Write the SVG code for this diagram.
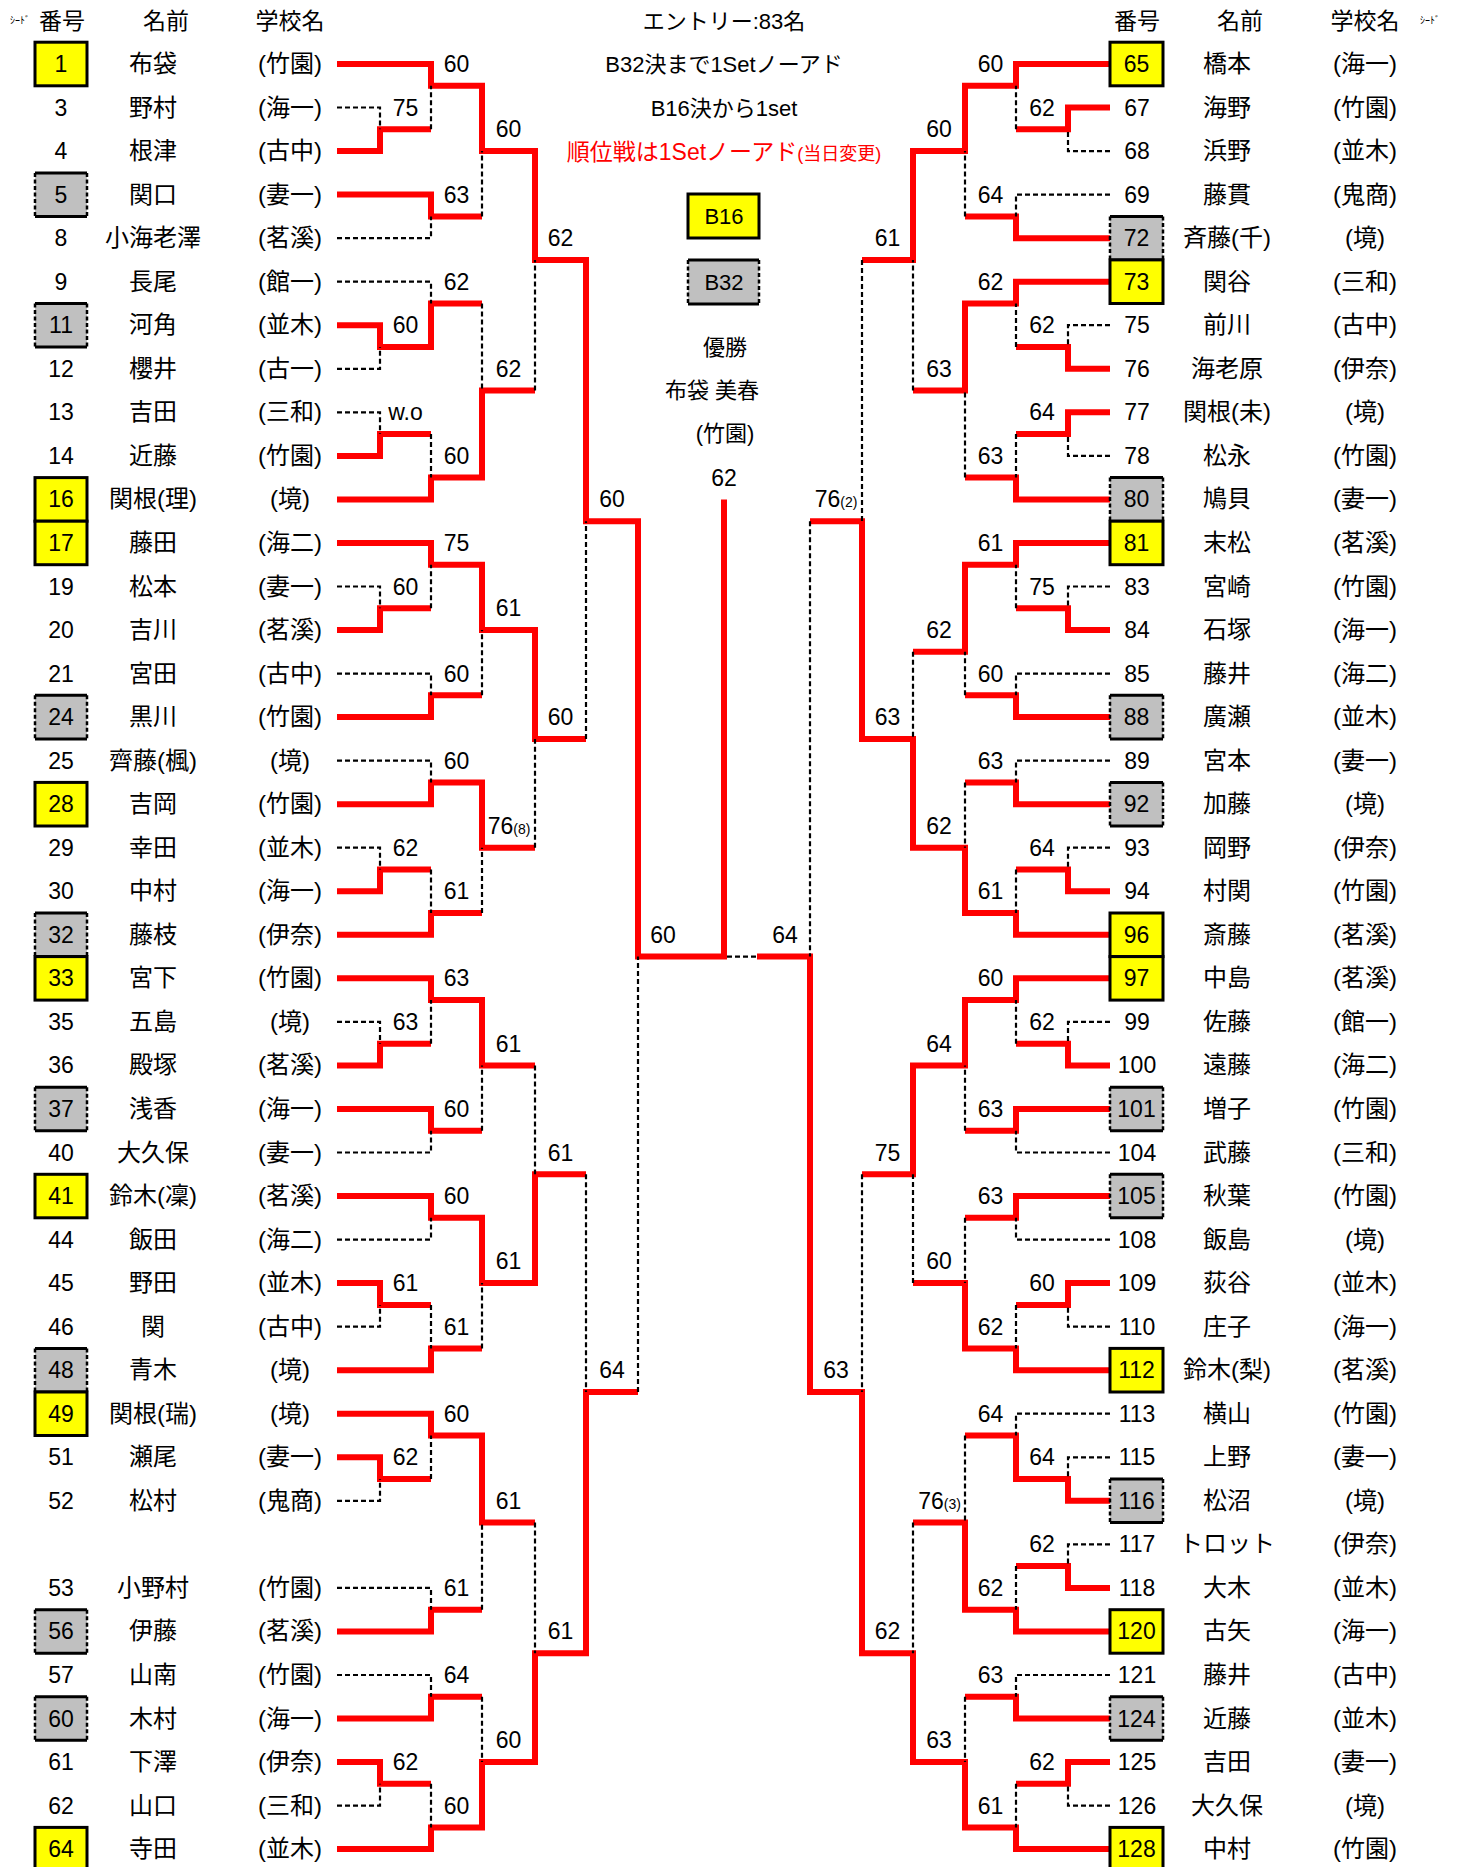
<svg xmlns="http://www.w3.org/2000/svg" width="1457" height="1867" viewBox="0 0 1457 1867">
<style>
text{font-family:"Liberation Sans","Noto Sans CJK JP",sans-serif;font-size:22px;fill:#000;text-anchor:middle}
#left-entries text,#right-entries text{font-size:24px}
#left-entries g text:first-of-type,#right-entries g text:first-of-type{font-size:23px}
#scores text{font-size:23px}
#header text{font-size:23px}
#scores .sm{font-size:14px}
#header .tiny{font-size:10px}
.red{fill:#f00}
.r{fill:none;stroke:#f00;stroke-width:6;stroke-linejoin:miter}
.d{fill:none;stroke:#000;stroke-width:2.2;stroke-dasharray:5 3}
.yb{fill:#ff0;stroke:#000;stroke-width:3}
.gb{fill:#c0c0c0}
.gs{stroke:#000;stroke-width:3;fill:none}
.gd{stroke:#000;stroke-width:2.5;stroke-dasharray:4 2.5;fill:none}
</style>
<rect width="1457" height="1867" fill="#fff"/>
<g id="connectors">
<polyline class="r" points="337,64 431,64 431,85.8 482,85.8 482,151.1 535,151.1 535,259.9 586,259.9 586,521.2 638,521.2 638,956.6 724,956.6 724,499.4"/>
<polyline class="r" points="337,151.1 380,151.1 380,129.3 431,129.3"/>
<polyline class="r" points="337,194.6 431,194.6 431,216.4 482,216.4"/>
<polyline class="r" points="337,325.2 380,325.2 380,347 431,347 431,303.5 482,303.5"/>
<polyline class="r" points="337,455.9 380,455.9 380,434.1 431,434.1"/>
<polyline class="r" points="337,499.4 431,499.4 431,477.6 482,477.6 482,390.6 535,390.6"/>
<polyline class="r" points="337,542.9 431,542.9 431,564.7 482,564.7 482,630 535,630 535,738.9 586,738.9"/>
<polyline class="r" points="337,630 380,630 380,608.3 431,608.3"/>
<polyline class="r" points="337,717.1 431,717.1 431,695.3 482,695.3"/>
<polyline class="r" points="337,804.2 431,804.2 431,782.4 482,782.4 482,847.7 535,847.7"/>
<polyline class="r" points="337,891.3 380,891.3 380,869.5 431,869.5"/>
<polyline class="r" points="337,934.8 431,934.8 431,913 482,913"/>
<polyline class="r" points="337,978.3 431,978.3 431,1000.1 482,1000.1 482,1065.4 535,1065.4"/>
<polyline class="r" points="337,1065.4 380,1065.4 380,1043.7 431,1043.7"/>
<polyline class="r" points="337,1109 431,1109 431,1130.7 482,1130.7"/>
<polyline class="r" points="337,1196 431,1196 431,1217.8 482,1217.8 482,1283.1 535,1283.1 535,1174.3 586,1174.3"/>
<polyline class="r" points="337,1283.1 380,1283.1 380,1304.9 431,1304.9"/>
<polyline class="r" points="337,1370.2 431,1370.2 431,1348.4 482,1348.4"/>
<polyline class="r" points="337,1413.7 431,1413.7 431,1435.5 482,1435.5 482,1522.6 535,1522.6"/>
<polyline class="r" points="337,1457.3 380,1457.3 380,1479.1 431,1479.1"/>
<polyline class="r" points="337,1631.4 431,1631.4 431,1609.7 482,1609.7"/>
<polyline class="r" points="337,1718.5 431,1718.5 431,1696.8 482,1696.8"/>
<polyline class="r" points="337,1762.1 380,1762.1 380,1783.8 431,1783.8"/>
<polyline class="r" points="337,1849.1 431,1849.1 431,1827.4 482,1827.4 482,1762.1 535,1762.1 535,1653.2 586,1653.2 586,1392 638,1392"/>
<polyline class="d" points="337,107.5 380,107.5 380,129.3"/>
<polyline class="d" points="337,238.2 431,238.2 431,216.4"/>
<polyline class="d" points="337,281.7 431,281.7 431,303.5"/>
<polyline class="d" points="337,368.8 380,368.8 380,347"/>
<polyline class="d" points="337,412.3 380,412.3 380,434.1"/>
<polyline class="d" points="337,586.5 380,586.5 380,608.3"/>
<polyline class="d" points="337,673.6 431,673.6 431,695.3"/>
<polyline class="d" points="337,760.6 431,760.6 431,782.4"/>
<polyline class="d" points="337,847.7 380,847.7 380,869.5"/>
<polyline class="d" points="337,1021.9 380,1021.9 380,1043.7"/>
<polyline class="d" points="337,1152.5 431,1152.5 431,1130.7"/>
<polyline class="d" points="337,1239.6 431,1239.6 431,1217.8"/>
<polyline class="d" points="337,1326.7 380,1326.7 380,1304.9"/>
<polyline class="d" points="337,1500.8 380,1500.8 380,1479.1"/>
<polyline class="d" points="337,1587.9 431,1587.9 431,1609.7"/>
<polyline class="d" points="337,1675 431,1675 431,1696.8"/>
<polyline class="d" points="337,1805.6 380,1805.6 380,1783.8"/>
<path class="d" d="M431 129.3V85.8M482 216.4V151.1M482 303.5V390.6M431 434.1V477.6M535 390.6V259.9M586 738.9V521.2M431 608.3V564.7M482 695.3V630M535 847.7V738.9M431 869.5V913M482 913V847.7M535 1065.4V1174.3M431 1043.7V1000.1M482 1130.7V1065.4M586 1174.3V1392M431 1304.9V1348.4M482 1348.4V1283.1M535 1522.6V1653.2M431 1479.1V1435.5M482 1609.7V1522.6M482 1696.8V1762.1M431 1783.8V1827.4M638 1392V956.6"/>
<polyline class="r" points="1110,64 1016,64 1016,85.8 965,85.8 965,151.1 913,151.1 913,259.9 862,259.9"/>
<polyline class="r" points="1110,107.5 1068,107.5 1068,129.3 1016,129.3"/>
<polyline class="r" points="1110,238.2 1016,238.2 1016,216.4 965,216.4"/>
<polyline class="r" points="1110,281.7 1016,281.7 1016,303.5 965,303.5 965,390.6 913,390.6"/>
<polyline class="r" points="1110,368.8 1068,368.8 1068,347 1016,347"/>
<polyline class="r" points="1110,412.3 1068,412.3 1068,434.1 1016,434.1"/>
<polyline class="r" points="1110,499.4 1016,499.4 1016,477.6 965,477.6"/>
<polyline class="r" points="1110,542.9 1016,542.9 1016,564.7 965,564.7 965,651.8 913,651.8"/>
<polyline class="r" points="1110,630 1068,630 1068,608.3 1016,608.3"/>
<polyline class="r" points="1110,717.1 1016,717.1 1016,695.3 965,695.3"/>
<polyline class="r" points="1110,804.2 1016,804.2 1016,782.4 965,782.4"/>
<polyline class="r" points="1110,891.3 1068,891.3 1068,869.5 1016,869.5"/>
<polyline class="r" points="1110,934.8 1016,934.8 1016,913 965,913 965,847.7 913,847.7 913,738.9 862,738.9 862,521.2 810,521.2"/>
<polyline class="r" points="1110,978.3 1016,978.3 1016,1000.1 965,1000.1 965,1065.4 913,1065.4 913,1174.3 862,1174.3"/>
<polyline class="r" points="1110,1065.4 1068,1065.4 1068,1043.7 1016,1043.7"/>
<polyline class="r" points="1110,1109 1016,1109 1016,1130.7 965,1130.7"/>
<polyline class="r" points="1110,1196 1016,1196 1016,1217.8 965,1217.8"/>
<polyline class="r" points="1110,1283.1 1068,1283.1 1068,1304.9 1016,1304.9"/>
<polyline class="r" points="1110,1370.2 1016,1370.2 1016,1348.4 965,1348.4 965,1283.1 913,1283.1"/>
<polyline class="r" points="1110,1500.8 1068,1500.8 1068,1479.1 1016,1479.1 1016,1435.5 965,1435.5"/>
<polyline class="r" points="1110,1587.9 1068,1587.9 1068,1566.1 1016,1566.1"/>
<polyline class="r" points="1110,1631.4 1016,1631.4 1016,1609.7 965,1609.7 965,1522.6 913,1522.6"/>
<polyline class="r" points="1110,1718.5 1016,1718.5 1016,1696.8 965,1696.8"/>
<polyline class="r" points="1110,1762.1 1068,1762.1 1068,1783.8 1016,1783.8"/>
<polyline class="r" points="1110,1849.1 1016,1849.1 1016,1827.4 965,1827.4 965,1762.1 913,1762.1 913,1653.2 862,1653.2 862,1392 810,1392 810,956.6 757,956.6"/>
<polyline class="d" points="1110,151.1 1068,151.1 1068,129.3"/>
<polyline class="d" points="1110,194.6 1016,194.6 1016,216.4"/>
<polyline class="d" points="1110,325.2 1068,325.2 1068,347"/>
<polyline class="d" points="1110,455.9 1068,455.9 1068,434.1"/>
<polyline class="d" points="1110,586.5 1068,586.5 1068,608.3"/>
<polyline class="d" points="1110,673.6 1016,673.6 1016,695.3"/>
<polyline class="d" points="1110,760.6 1016,760.6 1016,782.4"/>
<polyline class="d" points="1110,847.7 1068,847.7 1068,869.5"/>
<polyline class="d" points="1110,1021.9 1068,1021.9 1068,1043.7"/>
<polyline class="d" points="1110,1152.5 1016,1152.5 1016,1130.7"/>
<polyline class="d" points="1110,1239.6 1016,1239.6 1016,1217.8"/>
<polyline class="d" points="1110,1326.7 1068,1326.7 1068,1304.9"/>
<polyline class="d" points="1110,1413.7 1016,1413.7 1016,1435.5"/>
<polyline class="d" points="1110,1457.3 1068,1457.3 1068,1479.1"/>
<polyline class="d" points="1110,1544.4 1068,1544.4 1068,1566.1"/>
<polyline class="d" points="1110,1675 1016,1675 1016,1696.8"/>
<polyline class="d" points="1110,1805.6 1068,1805.6 1068,1783.8"/>
<path class="d" d="M1016 129.3V85.8M965 216.4V151.1M913 390.6V259.9M1016 347V303.5M1016 434.1V477.6M965 477.6V390.6M862 259.9V521.2M913 651.8V738.9M1016 608.3V564.7M965 695.3V651.8M965 782.4V847.7M1016 869.5V913M810 521.2V956.6M862 1174.3V1392M1016 1043.7V1000.1M965 1130.7V1065.4M965 1217.8V1283.1M1016 1304.9V1348.4M913 1283.1V1174.3M965 1435.5V1522.6M1016 1566.1V1609.7M913 1522.6V1653.2M965 1696.8V1762.1M1016 1783.8V1827.4M727 956.6H757"/>
</g>
<g id="scores">
<text x="405.5" y="115.5">75</text><text x="405.5" y="333.2">60</text><text x="405.5" y="420.3">w.o</text><text x="405.5" y="594.5">60</text><text x="405.5" y="855.7">62</text><text x="405.5" y="1029.9">63</text><text x="405.5" y="1291.1">61</text><text x="405.5" y="1465.3">62</text><text x="405.5" y="1770.1">62</text>
<text x="456.5" y="72">60</text><text x="456.5" y="202.6">63</text><text x="456.5" y="289.7">62</text><text x="456.5" y="463.9">60</text><text x="456.5" y="550.9">75</text><text x="456.5" y="681.6">60</text><text x="456.5" y="768.6">60</text><text x="456.5" y="899.3">61</text><text x="456.5" y="986.3">63</text><text x="456.5" y="1117">60</text><text x="456.5" y="1204">60</text><text x="456.5" y="1334.7">61</text><text x="456.5" y="1421.7">60</text><text x="456.5" y="1595.9">61</text><text x="456.5" y="1683">64</text><text x="456.5" y="1813.6">60</text>
<text x="508.5" y="137.3">60</text><text x="508.5" y="376.8">62</text><text x="508.5" y="616.3">61</text><text x="509" y="834">76<tspan class="sm">(8)</tspan></text><text x="508.5" y="1051.7">61</text><text x="508.5" y="1269.4">61</text><text x="508.5" y="1508.8">61</text><text x="508.5" y="1748.3">60</text>
<text x="560.5" y="246.2">62</text><text x="560.5" y="725.1">60</text><text x="560.5" y="1160.5">61</text><text x="560.5" y="1639.4">61</text>
<text x="612" y="507.4">60</text><text x="612" y="1378.2">64</text>
<text x="663" y="942.8">60</text>
<text x="724" y="485.6">62</text>
<text x="785" y="942.8">64</text>
<text x="836" y="507.4">76<tspan class="sm">(2)</tspan></text><text x="836" y="1378.2">63</text>
<text x="887.5" y="246.2">61</text><text x="887.5" y="725.1">63</text><text x="887.5" y="1160.5">75</text><text x="887.5" y="1639.4">62</text>
<text x="939" y="137.3">60</text><text x="939" y="376.8">63</text><text x="939" y="638">62</text><text x="939" y="834">62</text><text x="939" y="1051.7">64</text><text x="939" y="1269.4">60</text><text x="939.5" y="1508.8">76<tspan class="sm">(3)</tspan></text><text x="939" y="1748.3">63</text>
<text x="990.5" y="72">60</text><text x="990.5" y="202.6">64</text><text x="990.5" y="289.7">62</text><text x="990.5" y="463.9">63</text><text x="990.5" y="550.9">61</text><text x="990.5" y="681.6">60</text><text x="990.5" y="768.6">63</text><text x="990.5" y="899.3">61</text><text x="990.5" y="986.3">60</text><text x="990.5" y="1117">63</text><text x="990.5" y="1204">63</text><text x="990.5" y="1334.7">62</text><text x="990.5" y="1421.7">64</text><text x="990.5" y="1595.9">62</text><text x="990.5" y="1683">63</text><text x="990.5" y="1813.6">61</text>
<text x="1042" y="115.5">62</text><text x="1042" y="333.2">62</text><text x="1042" y="420.3">64</text><text x="1042" y="594.5">75</text><text x="1042" y="855.7">64</text><text x="1042" y="1029.9">62</text><text x="1042" y="1291.1">60</text><text x="1042" y="1465.3">64</text><text x="1042" y="1552.4">62</text><text x="1042" y="1770.1">62</text>
</g>
<g id="header">
<text class="tiny" x="20" y="24">ｼｰﾄﾞ</text>
<text x="62" y="28.5">番号</text><text x="166" y="28.5">名前</text><text x="290" y="28.5">学校名</text>
<text x="1137" y="28.5">番号</text><text x="1240" y="28.5">名前</text><text x="1365" y="28.5">学校名</text>
<text class="tiny" x="1430" y="24">ｼｰﾄﾞ</text>
</g>
<g id="info">
<text x="724" y="29">エントリー:83名</text>
<text x="724" y="72">B32決まで1Setノーアド</text>
<text x="724" y="116">B16決から1set</text>
<text class="red" x="724" y="160" style="font-size:23px">順位戦は1Setノーアド<tspan style="font-size:18px">(当日変更)</tspan></text>
<g id="legend-b16"><rect class="yb" x="688" y="194" width="71" height="44"/><text x="724" y="224">B16</text></g>
<g id="legend-b32"><rect class="gb" x="688" y="260" width="71" height="44"/><path class="gs" d="M688 260H759M688 304H759"/><path class="gd" d="M688 260V304M759 260V304"/><text x="724" y="290">B32</text></g>
<text x="725" y="355">優勝</text>
<text x="712" y="398">布袋 美春</text>
<text x="725" y="441">(竹園)</text>
</g>
<g id="left-entries">
<g id="n1"><rect class="yb" x="35" y="42.2" width="52" height="43.6"/><text x="61" y="72">1</text><text x="153" y="72">布袋</text><text x="290" y="72">(竹園)</text></g>
<g id="n3"><text x="61" y="115.5">3</text><text x="153" y="115.5">野村</text><text x="290" y="115.5">(海一)</text></g>
<g id="n4"><text x="61" y="159.1">4</text><text x="153" y="159.1">根津</text><text x="290" y="159.1">(古中)</text></g>
<g id="n5"><rect class="gb" x="35" y="172.9" width="52" height="43.5"/><path class="gs" d="M35 172.9H87M35 216.4H87"/><path class="gd" d="M35 172.9V216.4M87 172.9V216.4"/><text x="61" y="202.6">5</text><text x="153" y="202.6">関口</text><text x="290" y="202.6">(妻一)</text></g>
<g id="n8"><text x="61" y="246.2">8</text><text x="153" y="246.2">小海老澤</text><text x="290" y="246.2">(茗溪)</text></g>
<g id="n9"><text x="61" y="289.7">9</text><text x="153" y="289.7">長尾</text><text x="290" y="289.7">(館一)</text></g>
<g id="n11"><rect class="gb" x="35" y="303.5" width="52" height="43.5"/><path class="gs" d="M35 303.5H87M35 347H87"/><path class="gd" d="M35 303.5V347M87 303.5V347"/><text x="61" y="333.2">11</text><text x="153" y="333.2">河角</text><text x="290" y="333.2">(並木)</text></g>
<g id="n12"><text x="61" y="376.8">12</text><text x="153" y="376.8">櫻井</text><text x="290" y="376.8">(古一)</text></g>
<g id="n13"><text x="61" y="420.3">13</text><text x="153" y="420.3">吉田</text><text x="290" y="420.3">(三和)</text></g>
<g id="n14"><text x="61" y="463.9">14</text><text x="153" y="463.9">近藤</text><text x="290" y="463.9">(竹園)</text></g>
<g id="n16"><rect class="yb" x="35" y="477.6" width="52" height="43.6"/><text x="61" y="507.4">16</text><text x="153" y="507.4">関根(理)</text><text x="290" y="507.4">(境)</text></g>
<g id="n17"><rect class="yb" x="35" y="521.2" width="52" height="43.5"/><text x="61" y="550.9">17</text><text x="153" y="550.9">藤田</text><text x="290" y="550.9">(海二)</text></g>
<g id="n19"><text x="61" y="594.5">19</text><text x="153" y="594.5">松本</text><text x="290" y="594.5">(妻一)</text></g>
<g id="n20"><text x="61" y="638">20</text><text x="153" y="638">吉川</text><text x="290" y="638">(茗溪)</text></g>
<g id="n21"><text x="61" y="681.6">21</text><text x="153" y="681.6">宮田</text><text x="290" y="681.6">(古中)</text></g>
<g id="n24"><rect class="gb" x="35" y="695.3" width="52" height="43.6"/><path class="gs" d="M35 695.3H87M35 738.9H87"/><path class="gd" d="M35 695.3V738.9M87 695.3V738.9"/><text x="61" y="725.1">24</text><text x="153" y="725.1">黒川</text><text x="290" y="725.1">(竹園)</text></g>
<g id="n25"><text x="61" y="768.6">25</text><text x="153" y="768.6">齊藤(楓)</text><text x="290" y="768.6">(境)</text></g>
<g id="n28"><rect class="yb" x="35" y="782.4" width="52" height="43.6"/><text x="61" y="812.2">28</text><text x="153" y="812.2">吉岡</text><text x="290" y="812.2">(竹園)</text></g>
<g id="n29"><text x="61" y="855.7">29</text><text x="153" y="855.7">幸田</text><text x="290" y="855.7">(並木)</text></g>
<g id="n30"><text x="61" y="899.3">30</text><text x="153" y="899.3">中村</text><text x="290" y="899.3">(海一)</text></g>
<g id="n32"><rect class="gb" x="35" y="913" width="52" height="43.6"/><path class="gs" d="M35 913H87M35 956.6H87"/><path class="gd" d="M35 913V956.6M87 913V956.6"/><text x="61" y="942.8">32</text><text x="153" y="942.8">藤枝</text><text x="290" y="942.8">(伊奈)</text></g>
<g id="n33"><rect class="yb" x="35" y="956.6" width="52" height="43.5"/><text x="61" y="986.3">33</text><text x="153" y="986.3">宮下</text><text x="290" y="986.3">(竹園)</text></g>
<g id="n35"><text x="61" y="1029.9">35</text><text x="153" y="1029.9">五島</text><text x="290" y="1029.9">(境)</text></g>
<g id="n36"><text x="61" y="1073.4">36</text><text x="153" y="1073.4">殿塚</text><text x="290" y="1073.4">(茗溪)</text></g>
<g id="n37"><rect class="gb" x="35" y="1087.2" width="52" height="43.5"/><path class="gs" d="M35 1087.2H87M35 1130.7H87"/><path class="gd" d="M35 1087.2V1130.7M87 1087.2V1130.7"/><text x="61" y="1117">37</text><text x="153" y="1117">浅香</text><text x="290" y="1117">(海一)</text></g>
<g id="n40"><text x="61" y="1160.5">40</text><text x="153" y="1160.5">大久保</text><text x="290" y="1160.5">(妻一)</text></g>
<g id="n41"><rect class="yb" x="35" y="1174.3" width="52" height="43.5"/><text x="61" y="1204">41</text><text x="153" y="1204">鈴木(凜)</text><text x="290" y="1204">(茗溪)</text></g>
<g id="n44"><text x="61" y="1247.6">44</text><text x="153" y="1247.6">飯田</text><text x="290" y="1247.6">(海二)</text></g>
<g id="n45"><text x="61" y="1291.1">45</text><text x="153" y="1291.1">野田</text><text x="290" y="1291.1">(並木)</text></g>
<g id="n46"><text x="61" y="1334.7">46</text><text x="153" y="1334.7">関</text><text x="290" y="1334.7">(古中)</text></g>
<g id="n48"><rect class="gb" x="35" y="1348.4" width="52" height="43.6"/><path class="gs" d="M35 1348.4H87M35 1392H87"/><path class="gd" d="M35 1348.4V1392M87 1348.4V1392"/><text x="61" y="1378.2">48</text><text x="153" y="1378.2">青木</text><text x="290" y="1378.2">(境)</text></g>
<g id="n49"><rect class="yb" x="35" y="1392" width="52" height="43.5"/><text x="61" y="1421.7">49</text><text x="153" y="1421.7">関根(瑞)</text><text x="290" y="1421.7">(境)</text></g>
<g id="n51"><text x="61" y="1465.3">51</text><text x="153" y="1465.3">瀬尾</text><text x="290" y="1465.3">(妻一)</text></g>
<g id="n52"><text x="61" y="1508.8">52</text><text x="153" y="1508.8">松村</text><text x="290" y="1508.8">(鬼商)</text></g>
<g id="n53"><text x="61" y="1595.9">53</text><text x="153" y="1595.9">小野村</text><text x="290" y="1595.9">(竹園)</text></g>
<g id="n56"><rect class="gb" x="35" y="1609.7" width="52" height="43.5"/><path class="gs" d="M35 1609.7H87M35 1653.2H87"/><path class="gd" d="M35 1609.7V1653.2M87 1609.7V1653.2"/><text x="61" y="1639.4">56</text><text x="153" y="1639.4">伊藤</text><text x="290" y="1639.4">(茗溪)</text></g>
<g id="n57"><text x="61" y="1683">57</text><text x="153" y="1683">山南</text><text x="290" y="1683">(竹園)</text></g>
<g id="n60"><rect class="gb" x="35" y="1696.8" width="52" height="43.5"/><path class="gs" d="M35 1696.8H87M35 1740.3H87"/><path class="gd" d="M35 1696.8V1740.3M87 1696.8V1740.3"/><text x="61" y="1726.5">60</text><text x="153" y="1726.5">木村</text><text x="290" y="1726.5">(海一)</text></g>
<g id="n61"><text x="61" y="1770.1">61</text><text x="153" y="1770.1">下澤</text><text x="290" y="1770.1">(伊奈)</text></g>
<g id="n62"><text x="61" y="1813.6">62</text><text x="153" y="1813.6">山口</text><text x="290" y="1813.6">(三和)</text></g>
<g id="n64"><rect class="yb" x="35" y="1827.4" width="52" height="43.5"/><text x="61" y="1857.1">64</text><text x="153" y="1857.1">寺田</text><text x="290" y="1857.1">(並木)</text></g>
</g>
<g id="right-entries">
<g id="n65"><rect class="yb" x="1110" y="42.2" width="53" height="43.6"/><text x="1136.5" y="72">65</text><text x="1227" y="72">橋本</text><text x="1365" y="72">(海一)</text></g>
<g id="n67"><text x="1137" y="115.5">67</text><text x="1227" y="115.5">海野</text><text x="1365" y="115.5">(竹園)</text></g>
<g id="n68"><text x="1137" y="159.1">68</text><text x="1227" y="159.1">浜野</text><text x="1365" y="159.1">(並木)</text></g>
<g id="n69"><text x="1137" y="202.6">69</text><text x="1227" y="202.6">藤貫</text><text x="1365" y="202.6">(鬼商)</text></g>
<g id="n72"><rect class="gb" x="1110" y="216.4" width="53" height="43.5"/><path class="gs" d="M1110 216.4H1163M1110 259.9H1163"/><path class="gd" d="M1110 216.4V259.9M1163 216.4V259.9"/><text x="1136.5" y="246.2">72</text><text x="1227" y="246.2">斉藤(千)</text><text x="1365" y="246.2">(境)</text></g>
<g id="n73"><rect class="yb" x="1110" y="259.9" width="53" height="43.6"/><text x="1136.5" y="289.7">73</text><text x="1227" y="289.7">関谷</text><text x="1365" y="289.7">(三和)</text></g>
<g id="n75"><text x="1137" y="333.2">75</text><text x="1227" y="333.2">前川</text><text x="1365" y="333.2">(古中)</text></g>
<g id="n76"><text x="1137" y="376.8">76</text><text x="1227" y="376.8">海老原</text><text x="1365" y="376.8">(伊奈)</text></g>
<g id="n77"><text x="1137" y="420.3">77</text><text x="1227" y="420.3">関根(未)</text><text x="1365" y="420.3">(境)</text></g>
<g id="n78"><text x="1137" y="463.9">78</text><text x="1227" y="463.9">松永</text><text x="1365" y="463.9">(竹園)</text></g>
<g id="n80"><rect class="gb" x="1110" y="477.6" width="53" height="43.6"/><path class="gs" d="M1110 477.6H1163M1110 521.2H1163"/><path class="gd" d="M1110 477.6V521.2M1163 477.6V521.2"/><text x="1136.5" y="507.4">80</text><text x="1227" y="507.4">鳩貝</text><text x="1365" y="507.4">(妻一)</text></g>
<g id="n81"><rect class="yb" x="1110" y="521.2" width="53" height="43.5"/><text x="1136.5" y="550.9">81</text><text x="1227" y="550.9">末松</text><text x="1365" y="550.9">(茗溪)</text></g>
<g id="n83"><text x="1137" y="594.5">83</text><text x="1227" y="594.5">宮崎</text><text x="1365" y="594.5">(竹園)</text></g>
<g id="n84"><text x="1137" y="638">84</text><text x="1227" y="638">石塚</text><text x="1365" y="638">(海一)</text></g>
<g id="n85"><text x="1137" y="681.6">85</text><text x="1227" y="681.6">藤井</text><text x="1365" y="681.6">(海二)</text></g>
<g id="n88"><rect class="gb" x="1110" y="695.3" width="53" height="43.6"/><path class="gs" d="M1110 695.3H1163M1110 738.9H1163"/><path class="gd" d="M1110 695.3V738.9M1163 695.3V738.9"/><text x="1136.5" y="725.1">88</text><text x="1227" y="725.1">廣瀬</text><text x="1365" y="725.1">(並木)</text></g>
<g id="n89"><text x="1137" y="768.6">89</text><text x="1227" y="768.6">宮本</text><text x="1365" y="768.6">(妻一)</text></g>
<g id="n92"><rect class="gb" x="1110" y="782.4" width="53" height="43.6"/><path class="gs" d="M1110 782.4H1163M1110 826H1163"/><path class="gd" d="M1110 782.4V826M1163 782.4V826"/><text x="1136.5" y="812.2">92</text><text x="1227" y="812.2">加藤</text><text x="1365" y="812.2">(境)</text></g>
<g id="n93"><text x="1137" y="855.7">93</text><text x="1227" y="855.7">岡野</text><text x="1365" y="855.7">(伊奈)</text></g>
<g id="n94"><text x="1137" y="899.3">94</text><text x="1227" y="899.3">村関</text><text x="1365" y="899.3">(竹園)</text></g>
<g id="n96"><rect class="yb" x="1110" y="913" width="53" height="43.6"/><text x="1136.5" y="942.8">96</text><text x="1227" y="942.8">斎藤</text><text x="1365" y="942.8">(茗溪)</text></g>
<g id="n97"><rect class="yb" x="1110" y="956.6" width="53" height="43.5"/><text x="1136.5" y="986.3">97</text><text x="1227" y="986.3">中島</text><text x="1365" y="986.3">(茗溪)</text></g>
<g id="n99"><text x="1137" y="1029.9">99</text><text x="1227" y="1029.9">佐藤</text><text x="1365" y="1029.9">(館一)</text></g>
<g id="n100"><text x="1137" y="1073.4">100</text><text x="1227" y="1073.4">遠藤</text><text x="1365" y="1073.4">(海二)</text></g>
<g id="n101"><rect class="gb" x="1110" y="1087.2" width="53" height="43.5"/><path class="gs" d="M1110 1087.2H1163M1110 1130.7H1163"/><path class="gd" d="M1110 1087.2V1130.7M1163 1087.2V1130.7"/><text x="1136.5" y="1117">101</text><text x="1227" y="1117">増子</text><text x="1365" y="1117">(竹園)</text></g>
<g id="n104"><text x="1137" y="1160.5">104</text><text x="1227" y="1160.5">武藤</text><text x="1365" y="1160.5">(三和)</text></g>
<g id="n105"><rect class="gb" x="1110" y="1174.3" width="53" height="43.5"/><path class="gs" d="M1110 1174.3H1163M1110 1217.8H1163"/><path class="gd" d="M1110 1174.3V1217.8M1163 1174.3V1217.8"/><text x="1136.5" y="1204">105</text><text x="1227" y="1204">秋葉</text><text x="1365" y="1204">(竹園)</text></g>
<g id="n108"><text x="1137" y="1247.6">108</text><text x="1227" y="1247.6">飯島</text><text x="1365" y="1247.6">(境)</text></g>
<g id="n109"><text x="1137" y="1291.1">109</text><text x="1227" y="1291.1">荻谷</text><text x="1365" y="1291.1">(並木)</text></g>
<g id="n110"><text x="1137" y="1334.7">110</text><text x="1227" y="1334.7">庄子</text><text x="1365" y="1334.7">(海一)</text></g>
<g id="n112"><rect class="yb" x="1110" y="1348.4" width="53" height="43.6"/><text x="1136.5" y="1378.2">112</text><text x="1227" y="1378.2">鈴木(梨)</text><text x="1365" y="1378.2">(茗溪)</text></g>
<g id="n113"><text x="1137" y="1421.7">113</text><text x="1227" y="1421.7">横山</text><text x="1365" y="1421.7">(竹園)</text></g>
<g id="n115"><text x="1137" y="1465.3">115</text><text x="1227" y="1465.3">上野</text><text x="1365" y="1465.3">(妻一)</text></g>
<g id="n116"><rect class="gb" x="1110" y="1479.1" width="53" height="43.5"/><path class="gs" d="M1110 1479.1H1163M1110 1522.6H1163"/><path class="gd" d="M1110 1479.1V1522.6M1163 1479.1V1522.6"/><text x="1136.5" y="1508.8">116</text><text x="1227" y="1508.8">松沼</text><text x="1365" y="1508.8">(境)</text></g>
<g id="n117"><text x="1137" y="1552.4">117</text><text x="1227" y="1552.4">トロット</text><text x="1365" y="1552.4">(伊奈)</text></g>
<g id="n118"><text x="1137" y="1595.9">118</text><text x="1227" y="1595.9">大木</text><text x="1365" y="1595.9">(並木)</text></g>
<g id="n120"><rect class="yb" x="1110" y="1609.7" width="53" height="43.5"/><text x="1136.5" y="1639.4">120</text><text x="1227" y="1639.4">古矢</text><text x="1365" y="1639.4">(海一)</text></g>
<g id="n121"><text x="1137" y="1683">121</text><text x="1227" y="1683">藤井</text><text x="1365" y="1683">(古中)</text></g>
<g id="n124"><rect class="gb" x="1110" y="1696.8" width="53" height="43.5"/><path class="gs" d="M1110 1696.8H1163M1110 1740.3H1163"/><path class="gd" d="M1110 1696.8V1740.3M1163 1696.8V1740.3"/><text x="1136.5" y="1726.5">124</text><text x="1227" y="1726.5">近藤</text><text x="1365" y="1726.5">(並木)</text></g>
<g id="n125"><text x="1137" y="1770.1">125</text><text x="1227" y="1770.1">吉田</text><text x="1365" y="1770.1">(妻一)</text></g>
<g id="n126"><text x="1137" y="1813.6">126</text><text x="1227" y="1813.6">大久保</text><text x="1365" y="1813.6">(境)</text></g>
<g id="n128"><rect class="yb" x="1110" y="1827.4" width="53" height="43.5"/><text x="1136.5" y="1857.1">128</text><text x="1227" y="1857.1">中村</text><text x="1365" y="1857.1">(竹園)</text></g>
</g>
</svg>
